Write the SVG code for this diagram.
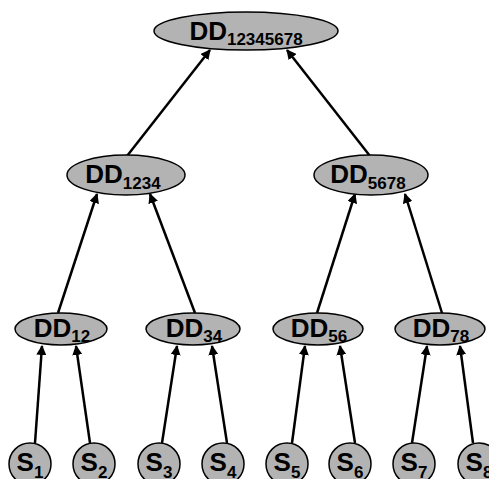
<svg xmlns="http://www.w3.org/2000/svg" width="489" height="479" viewBox="0 0 489 479">
<defs>
<marker id="ah" markerWidth="10" markerHeight="10" refX="9" refY="5" orient="auto" markerUnits="userSpaceOnUse">
<path d="M0,0 L10,5 L0,10 z" fill="#000"/>
</marker>
<style>
.n{fill:#b3b3b3;stroke:#000;stroke-width:1.5}
.t{font-family:"Liberation Sans",Arial,sans-serif;font-weight:bold;font-size:26px;fill:#000;text-anchor:middle}
.s{font-size:17px}
.c{stroke:#000;stroke-width:2.5;fill:none;marker-end:url(#ah)}
</style>
</defs>
<rect width="489" height="479" fill="#fff"/>
<g id="connectors">
<line class="c" x1="35" y1="443" x2="42" y2="346"/>
<line class="c" x1="90" y1="443" x2="76" y2="346"/>
<line class="c" x1="162" y1="443" x2="177" y2="346"/>
<line class="c" x1="227" y1="443" x2="212" y2="346"/>
<line class="c" x1="292" y1="443" x2="305" y2="346"/>
<line class="c" x1="355" y1="443" x2="340" y2="346"/>
<line class="c" x1="412" y1="443" x2="427" y2="346"/>
<line class="c" x1="473" y1="443" x2="460" y2="346"/>
<line class="c" x1="58" y1="313" x2="97" y2="194"/>
<line class="c" x1="195" y1="313" x2="150" y2="194"/>
<line class="c" x1="317" y1="313" x2="355" y2="194"/>
<line class="c" x1="442" y1="313" x2="405" y2="194"/>
<line class="c" x1="127" y1="156" x2="210" y2="50"/>
<line class="c" x1="370" y1="156" x2="287" y2="50"/>
</g>
<g id="DD12345678"><ellipse class="n" cx="246" cy="31" rx="92" ry="19"/><text class="t" x="246" y="40">DD<tspan class="s" dy="5">12345678</tspan></text></g>
<g id="DD1234"><ellipse class="n" cx="126" cy="175" rx="59" ry="20"/><text class="t" x="123" y="183">DD<tspan class="s" dy="6">1234</tspan></text></g>
<g id="DD5678"><ellipse class="n" cx="371" cy="175" rx="57" ry="20"/><text class="t" x="368" y="183">DD<tspan class="s" dy="6">5678</tspan></text></g>
<g id="DD12"><ellipse class="n" cx="61" cy="329" rx="46" ry="16"/><text class="t" x="62" y="337">DD<tspan class="s" dy="5">12</tspan></text></g>
<g id="DD34"><ellipse class="n" cx="193" cy="329" rx="47" ry="16"/><text class="t" x="194" y="337">DD<tspan class="s" dy="5">34</tspan></text></g>
<g id="DD56"><ellipse class="n" cx="318" cy="329" rx="45" ry="16"/><text class="t" x="319" y="337">DD<tspan class="s" dy="5">56</tspan></text></g>
<g id="DD78"><ellipse class="n" cx="440" cy="329" rx="45" ry="16"/><text class="t" x="441" y="337">DD<tspan class="s" dy="5">78</tspan></text></g>
<g id="S1"><circle class="n" cx="30" cy="464" r="21"/><text class="t" x="30" y="471">S<tspan class="s" dy="7">1</tspan></text></g>
<g id="S2"><circle class="n" cx="94" cy="464" r="21"/><text class="t" x="94" y="471">S<tspan class="s" dy="7">2</tspan></text></g>
<g id="S3"><circle class="n" cx="159" cy="464" r="21"/><text class="t" x="159" y="471">S<tspan class="s" dy="7">3</tspan></text></g>
<g id="S4"><circle class="n" cx="223" cy="464" r="21"/><text class="t" x="223" y="471">S<tspan class="s" dy="7">4</tspan></text></g>
<g id="S5"><circle class="n" cx="287" cy="464" r="21"/><text class="t" x="287" y="471">S<tspan class="s" dy="7">5</tspan></text></g>
<g id="S6"><circle class="n" cx="350" cy="464" r="21"/><text class="t" x="350" y="471">S<tspan class="s" dy="7">6</tspan></text></g>
<g id="S7"><circle class="n" cx="414" cy="464" r="21"/><text class="t" x="414" y="471">S<tspan class="s" dy="7">7</tspan></text></g>
<g id="S8"><circle class="n" cx="479" cy="464" r="21"/><text class="t" x="479" y="471">S<tspan class="s" dy="7">8</tspan></text></g>
</svg>
